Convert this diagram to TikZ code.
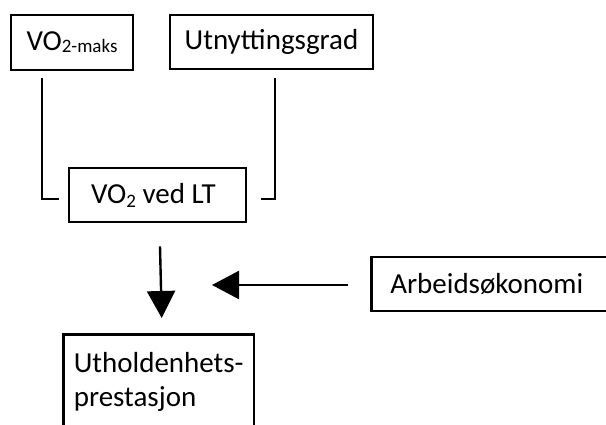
\documentclass[tikz,border=0pt]{standalone}
\usepackage{fontspec}
\setmainfont{Carlito}
\usetikzlibrary{arrows.meta}
\begin{document}
\begin{tikzpicture}[x=1pt,y=-1pt,
  box/.style={draw=black,line width=2.6pt,rectangle,inner sep=0pt,
    font=\fontsize{29}{34}\selectfont},
  conn/.style={draw=black,line width=2.2pt},
  arr/.style={draw=black,line width=2.4pt,-{Triangle[length=27pt,width=28pt]}}]
\path[use as bounding box] (0,0) rectangle (606,425);
\clip (0,0) rectangle (606,425);
\node[box,minimum width=122pt,minimum height=55pt] (vomaks) at (72,42.5)
  {VO\raisebox{-2pt}{\fontsize{19}{19}\selectfont 2-maks}};
\node[box,minimum width=203pt,minimum height=54pt] (utn) at (271.5,42)
  {Utnyttingsgrad};
\node[box,minimum width=177pt,minimum height=54pt] (volt) at (157.5,195)
  {\hspace*{-8pt}VO\raisebox{-4pt}{\fontsize{19}{19}\selectfont 2} ved LT};
\node[box,anchor=west,minimum height=54pt,inner xsep=19pt,text width=230pt,align=left] (arb) at (370,284)
  {Arbeidsøkonomi};
\node[box,anchor=north west,inner xsep=10.5pt,inner ysep=18pt,align=left] (uth) at (62,333)
  {Utholdenhets-\\prestasjon};
\coordinate (meet) at (212,285);
\draw[conn] ([shift={(32,7)}]vomaks.south west) |- ([shift={(-9,4)}]volt.west);
\draw[conn] ([shift={(106,8)}]utn.south west) |- ([shift={(14,4)}]volt.east);
\draw[arr] ([shift={(2.5,23)}]volt.south) -- ([shift={(3,-15)}]uth.north);
\draw[arr] ([shift={(-22,1)}]arb.west) -- (meet);
\end{tikzpicture}
\end{document}
